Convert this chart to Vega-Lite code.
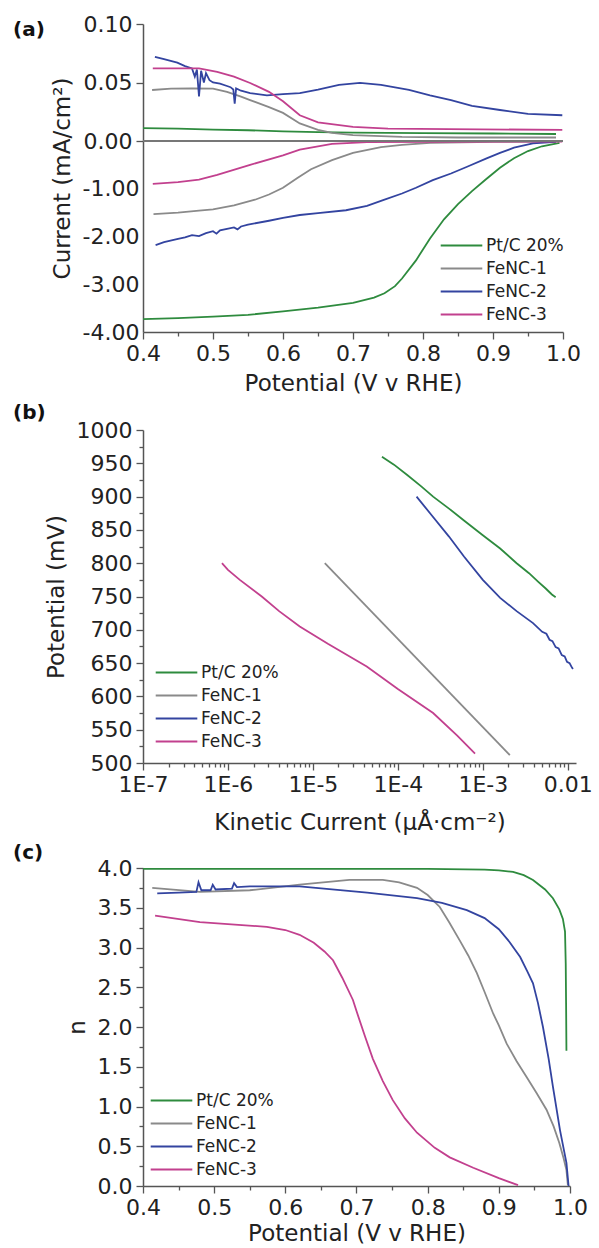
{
  "$schema": "https://vega.github.io/schema/vega-lite/v6.json",
  "padding": {"left": 13, "top": 13, "right": 0, "bottom": 0},
  "background": "white",
  "config": {
    "font": "DejaVu Sans",
    "view": {"stroke": null},
    "axis": {"labelFontSize": 22, "titleFontSize": 23, "titleFontWeight": "normal", "labelColor": "#222", "titleColor": "#222", "domainColor": "#555", "tickColor": "#555", "domainWidth": 1.5, "tickWidth": 1.3, "grid": false, "labelFlush": false, "labelOverlap": false, "labelPadding": 4, "titlePadding": 8},
    "legend": {"labelColor": "#222"},
    "title": {"fontSize": 20, "fontWeight": "bold", "color": "#111", "anchor": "start", "frame": "group", "offset": 0, "baseline": "alphabetic"}
  },
  "spacing": 90,
  "bounds": "flush",
  "resolve": {"scale": {"x": "independent", "y": "independent", "color": "independent"}, "legend": {"color": "independent"}, "axis": {"x": "independent", "y": "independent"}},
  "datasets": {
    "rd": [
      {"s": "Pt/C 20%", "part": "ring", "v": 0.40, "i": 0.011},
      {"s": "Pt/C 20%", "part": "ring", "v": 0.45, "i": 0.0105},
      {"s": "Pt/C 20%", "part": "ring", "v": 0.50, "i": 0.0098},
      {"s": "Pt/C 20%", "part": "ring", "v": 0.55, "i": 0.0092},
      {"s": "Pt/C 20%", "part": "ring", "v": 0.60, "i": 0.0082},
      {"s": "Pt/C 20%", "part": "ring", "v": 0.65, "i": 0.0076},
      {"s": "Pt/C 20%", "part": "ring", "v": 0.70, "i": 0.0072},
      {"s": "Pt/C 20%", "part": "ring", "v": 0.80, "i": 0.0068},
      {"s": "Pt/C 20%", "part": "ring", "v": 0.90, "i": 0.0064},
      {"s": "Pt/C 20%", "part": "ring", "v": 0.99, "i": 0.006},
      {"s": "Pt/C 20%", "part": "disk", "v": 0.40, "i": -3.73},
      {"s": "Pt/C 20%", "part": "disk", "v": 0.45, "i": -3.71},
      {"s": "Pt/C 20%", "part": "disk", "v": 0.50, "i": -3.68},
      {"s": "Pt/C 20%", "part": "disk", "v": 0.55, "i": -3.64},
      {"s": "Pt/C 20%", "part": "disk", "v": 0.60, "i": -3.57},
      {"s": "Pt/C 20%", "part": "disk", "v": 0.65, "i": -3.49},
      {"s": "Pt/C 20%", "part": "disk", "v": 0.70, "i": -3.39},
      {"s": "Pt/C 20%", "part": "disk", "v": 0.73, "i": -3.28},
      {"s": "Pt/C 20%", "part": "disk", "v": 0.745, "i": -3.19},
      {"s": "Pt/C 20%", "part": "disk", "v": 0.76, "i": -3.04},
      {"s": "Pt/C 20%", "part": "disk", "v": 0.77, "i": -2.88},
      {"s": "Pt/C 20%", "part": "disk", "v": 0.79, "i": -2.50},
      {"s": "Pt/C 20%", "part": "disk", "v": 0.81, "i": -2.04},
      {"s": "Pt/C 20%", "part": "disk", "v": 0.83, "i": -1.64},
      {"s": "Pt/C 20%", "part": "disk", "v": 0.85, "i": -1.32},
      {"s": "Pt/C 20%", "part": "disk", "v": 0.87, "i": -1.05},
      {"s": "Pt/C 20%", "part": "disk", "v": 0.89, "i": -0.80},
      {"s": "Pt/C 20%", "part": "disk", "v": 0.91, "i": -0.56},
      {"s": "Pt/C 20%", "part": "disk", "v": 0.93, "i": -0.36},
      {"s": "Pt/C 20%", "part": "disk", "v": 0.95, "i": -0.21},
      {"s": "Pt/C 20%", "part": "disk", "v": 0.97, "i": -0.11},
      {"s": "Pt/C 20%", "part": "disk", "v": 0.995, "i": -0.04},
      {"s": "FeNC-1", "part": "ring", "v": 0.413, "i": 0.0436},
      {"s": "FeNC-1", "part": "ring", "v": 0.44, "i": 0.0448},
      {"s": "FeNC-1", "part": "ring", "v": 0.47, "i": 0.045},
      {"s": "FeNC-1", "part": "ring", "v": 0.50, "i": 0.0448},
      {"s": "FeNC-1", "part": "ring", "v": 0.52, "i": 0.042},
      {"s": "FeNC-1", "part": "ring", "v": 0.54, "i": 0.038},
      {"s": "FeNC-1", "part": "ring", "v": 0.553, "i": 0.035},
      {"s": "FeNC-1", "part": "ring", "v": 0.58, "i": 0.029},
      {"s": "FeNC-1", "part": "ring", "v": 0.60, "i": 0.024},
      {"s": "FeNC-1", "part": "ring", "v": 0.624, "i": 0.015},
      {"s": "FeNC-1", "part": "ring", "v": 0.65, "i": 0.0095},
      {"s": "FeNC-1", "part": "ring", "v": 0.67, "i": 0.007},
      {"s": "FeNC-1", "part": "ring", "v": 0.70, "i": 0.005},
      {"s": "FeNC-1", "part": "ring", "v": 0.77, "i": 0.0035},
      {"s": "FeNC-1", "part": "ring", "v": 0.85, "i": 0.003},
      {"s": "FeNC-1", "part": "ring", "v": 0.99, "i": 0.003},
      {"s": "FeNC-1", "part": "disk", "v": 0.415, "i": -1.53},
      {"s": "FeNC-1", "part": "disk", "v": 0.45, "i": -1.50},
      {"s": "FeNC-1", "part": "disk", "v": 0.48, "i": -1.46},
      {"s": "FeNC-1", "part": "disk", "v": 0.50, "i": -1.43},
      {"s": "FeNC-1", "part": "disk", "v": 0.53, "i": -1.35},
      {"s": "FeNC-1", "part": "disk", "v": 0.56, "i": -1.23},
      {"s": "FeNC-1", "part": "disk", "v": 0.58, "i": -1.12},
      {"s": "FeNC-1", "part": "disk", "v": 0.60, "i": -0.98},
      {"s": "FeNC-1", "part": "disk", "v": 0.62, "i": -0.78},
      {"s": "FeNC-1", "part": "disk", "v": 0.64, "i": -0.59},
      {"s": "FeNC-1", "part": "disk", "v": 0.67, "i": -0.40},
      {"s": "FeNC-1", "part": "disk", "v": 0.70, "i": -0.25},
      {"s": "FeNC-1", "part": "disk", "v": 0.74, "i": -0.13},
      {"s": "FeNC-1", "part": "disk", "v": 0.77, "i": -0.08},
      {"s": "FeNC-1", "part": "disk", "v": 0.81, "i": -0.04},
      {"s": "FeNC-1", "part": "disk", "v": 0.90, "i": -0.02},
      {"s": "FeNC-1", "part": "disk", "v": 0.99, "i": -0.01},
      {"s": "FeNC-2", "part": "ring", "v": 0.417, "i": 0.072},
      {"s": "FeNC-2", "part": "ring", "v": 0.43, "i": 0.070},
      {"s": "FeNC-2", "part": "ring", "v": 0.449, "i": 0.067},
      {"s": "FeNC-2", "part": "ring", "v": 0.46, "i": 0.064},
      {"s": "FeNC-2", "part": "ring", "v": 0.47, "i": 0.062},
      {"s": "FeNC-2", "part": "ring", "v": 0.474, "i": 0.055},
      {"s": "FeNC-2", "part": "ring", "v": 0.477, "i": 0.061},
      {"s": "FeNC-2", "part": "ring", "v": 0.480, "i": 0.038},
      {"s": "FeNC-2", "part": "ring", "v": 0.483, "i": 0.060},
      {"s": "FeNC-2", "part": "ring", "v": 0.487, "i": 0.050},
      {"s": "FeNC-2", "part": "ring", "v": 0.490, "i": 0.058},
      {"s": "FeNC-2", "part": "ring", "v": 0.495, "i": 0.052},
      {"s": "FeNC-2", "part": "ring", "v": 0.50, "i": 0.050},
      {"s": "FeNC-2", "part": "ring", "v": 0.51, "i": 0.049},
      {"s": "FeNC-2", "part": "ring", "v": 0.52, "i": 0.047},
      {"s": "FeNC-2", "part": "ring", "v": 0.525, "i": 0.046},
      {"s": "FeNC-2", "part": "ring", "v": 0.529, "i": 0.044},
      {"s": "FeNC-2", "part": "ring", "v": 0.531, "i": 0.032},
      {"s": "FeNC-2", "part": "ring", "v": 0.533, "i": 0.045},
      {"s": "FeNC-2", "part": "ring", "v": 0.54, "i": 0.043},
      {"s": "FeNC-2", "part": "ring", "v": 0.553, "i": 0.041},
      {"s": "FeNC-2", "part": "ring", "v": 0.577, "i": 0.039},
      {"s": "FeNC-2", "part": "ring", "v": 0.60, "i": 0.040},
      {"s": "FeNC-2", "part": "ring", "v": 0.624, "i": 0.041},
      {"s": "FeNC-2", "part": "ring", "v": 0.65, "i": 0.044},
      {"s": "FeNC-2", "part": "ring", "v": 0.68, "i": 0.048},
      {"s": "FeNC-2", "part": "ring", "v": 0.71, "i": 0.0496},
      {"s": "FeNC-2", "part": "ring", "v": 0.74, "i": 0.048},
      {"s": "FeNC-2", "part": "ring", "v": 0.78, "i": 0.0436},
      {"s": "FeNC-2", "part": "ring", "v": 0.81, "i": 0.039},
      {"s": "FeNC-2", "part": "ring", "v": 0.84, "i": 0.035},
      {"s": "FeNC-2", "part": "ring", "v": 0.87, "i": 0.030},
      {"s": "FeNC-2", "part": "ring", "v": 0.91, "i": 0.0265},
      {"s": "FeNC-2", "part": "ring", "v": 0.95, "i": 0.0232},
      {"s": "FeNC-2", "part": "ring", "v": 0.999, "i": 0.022},
      {"s": "FeNC-2", "part": "disk", "v": 0.418, "i": -2.18},
      {"s": "FeNC-2", "part": "disk", "v": 0.43, "i": -2.12},
      {"s": "FeNC-2", "part": "disk", "v": 0.45, "i": -2.05},
      {"s": "FeNC-2", "part": "disk", "v": 0.46, "i": -2.02},
      {"s": "FeNC-2", "part": "disk", "v": 0.47, "i": -1.97},
      {"s": "FeNC-2", "part": "disk", "v": 0.48, "i": -1.99},
      {"s": "FeNC-2", "part": "disk", "v": 0.49, "i": -1.93},
      {"s": "FeNC-2", "part": "disk", "v": 0.50, "i": -1.89},
      {"s": "FeNC-2", "part": "disk", "v": 0.505, "i": -1.94},
      {"s": "FeNC-2", "part": "disk", "v": 0.51, "i": -1.87},
      {"s": "FeNC-2", "part": "disk", "v": 0.52, "i": -1.84},
      {"s": "FeNC-2", "part": "disk", "v": 0.53, "i": -1.81},
      {"s": "FeNC-2", "part": "disk", "v": 0.535, "i": -1.85},
      {"s": "FeNC-2", "part": "disk", "v": 0.54, "i": -1.79},
      {"s": "FeNC-2", "part": "disk", "v": 0.55, "i": -1.75},
      {"s": "FeNC-2", "part": "disk", "v": 0.58, "i": -1.67},
      {"s": "FeNC-2", "part": "disk", "v": 0.60, "i": -1.61},
      {"s": "FeNC-2", "part": "disk", "v": 0.624, "i": -1.55},
      {"s": "FeNC-2", "part": "disk", "v": 0.65, "i": -1.51},
      {"s": "FeNC-2", "part": "disk", "v": 0.69, "i": -1.45},
      {"s": "FeNC-2", "part": "disk", "v": 0.72, "i": -1.36},
      {"s": "FeNC-2", "part": "disk", "v": 0.743, "i": -1.24},
      {"s": "FeNC-2", "part": "disk", "v": 0.77, "i": -1.10},
      {"s": "FeNC-2", "part": "disk", "v": 0.79, "i": -0.98},
      {"s": "FeNC-2", "part": "disk", "v": 0.814, "i": -0.82},
      {"s": "FeNC-2", "part": "disk", "v": 0.84, "i": -0.68},
      {"s": "FeNC-2", "part": "disk", "v": 0.863, "i": -0.54},
      {"s": "FeNC-2", "part": "disk", "v": 0.89, "i": -0.37},
      {"s": "FeNC-2", "part": "disk", "v": 0.91, "i": -0.25},
      {"s": "FeNC-2", "part": "disk", "v": 0.93, "i": -0.14},
      {"s": "FeNC-2", "part": "disk", "v": 0.957, "i": -0.05},
      {"s": "FeNC-2", "part": "disk", "v": 0.99, "i": -0.02},
      {"s": "FeNC-3", "part": "ring", "v": 0.414, "i": 0.062},
      {"s": "FeNC-3", "part": "ring", "v": 0.48, "i": 0.062},
      {"s": "FeNC-3", "part": "ring", "v": 0.506, "i": 0.059},
      {"s": "FeNC-3", "part": "ring", "v": 0.53, "i": 0.055},
      {"s": "FeNC-3", "part": "ring", "v": 0.553, "i": 0.0496},
      {"s": "FeNC-3", "part": "ring", "v": 0.58, "i": 0.042},
      {"s": "FeNC-3", "part": "ring", "v": 0.60, "i": 0.034},
      {"s": "FeNC-3", "part": "ring", "v": 0.624, "i": 0.022},
      {"s": "FeNC-3", "part": "ring", "v": 0.65, "i": 0.016},
      {"s": "FeNC-3", "part": "ring", "v": 0.70, "i": 0.012},
      {"s": "FeNC-3", "part": "ring", "v": 0.75, "i": 0.0105},
      {"s": "FeNC-3", "part": "ring", "v": 0.999, "i": 0.0095},
      {"s": "FeNC-3", "part": "disk", "v": 0.414, "i": -0.90},
      {"s": "FeNC-3", "part": "disk", "v": 0.45, "i": -0.86},
      {"s": "FeNC-3", "part": "disk", "v": 0.48, "i": -0.81},
      {"s": "FeNC-3", "part": "disk", "v": 0.506, "i": -0.71},
      {"s": "FeNC-3", "part": "disk", "v": 0.553, "i": -0.50},
      {"s": "FeNC-3", "part": "disk", "v": 0.60, "i": -0.30},
      {"s": "FeNC-3", "part": "disk", "v": 0.624, "i": -0.18},
      {"s": "FeNC-3", "part": "disk", "v": 0.67, "i": -0.06},
      {"s": "FeNC-3", "part": "disk", "v": 0.72, "i": -0.025},
      {"s": "FeNC-3", "part": "disk", "v": 0.999, "i": -0.01}
    ],
    "tf": [
      {"s": "Pt/C 20%", "k": 6.5e-5, "p": 960},
      {"s": "Pt/C 20%", "k": 9e-5, "p": 948},
      {"s": "Pt/C 20%", "k": 1.3e-4, "p": 932},
      {"s": "Pt/C 20%", "k": 1.9e-4, "p": 915},
      {"s": "Pt/C 20%", "k": 2.6e-4, "p": 900},
      {"s": "Pt/C 20%", "k": 4e-4, "p": 882},
      {"s": "Pt/C 20%", "k": 6e-4, "p": 864},
      {"s": "Pt/C 20%", "k": 1.0e-3, "p": 842},
      {"s": "Pt/C 20%", "k": 1.6e-3, "p": 822},
      {"s": "Pt/C 20%", "k": 2.5e-3, "p": 800},
      {"s": "Pt/C 20%", "k": 3.5e-3, "p": 785},
      {"s": "Pt/C 20%", "k": 4.5e-3, "p": 772},
      {"s": "Pt/C 20%", "k": 5.5e-3, "p": 762},
      {"s": "Pt/C 20%", "k": 6.5e-3, "p": 753},
      {"s": "Pt/C 20%", "k": 7.2e-3, "p": 749},
      {"s": "FeNC-1", "k": 1.38e-5, "p": 800},
      {"s": "FeNC-1", "k": 2.08e-3, "p": 512},
      {"s": "FeNC-2", "k": 1.66e-4, "p": 900},
      {"s": "FeNC-2", "k": 2.5e-4, "p": 872},
      {"s": "FeNC-2", "k": 4e-4, "p": 840},
      {"s": "FeNC-2", "k": 6e-4, "p": 810},
      {"s": "FeNC-2", "k": 1.0e-3, "p": 775},
      {"s": "FeNC-2", "k": 1.6e-3, "p": 748},
      {"s": "FeNC-2", "k": 2.5e-3, "p": 728},
      {"s": "FeNC-2", "k": 3.9e-3, "p": 710},
      {"s": "FeNC-2", "k": 5.0e-3, "p": 697},
      {"s": "FeNC-2", "k": 5.6e-3, "p": 694},
      {"s": "FeNC-2", "k": 6.1e-3, "p": 685},
      {"s": "FeNC-2", "k": 6.6e-3, "p": 683},
      {"s": "FeNC-2", "k": 7.2e-3, "p": 674},
      {"s": "FeNC-2", "k": 7.8e-3, "p": 672},
      {"s": "FeNC-2", "k": 8.5e-3, "p": 662},
      {"s": "FeNC-2", "k": 9.2e-3, "p": 660},
      {"s": "FeNC-2", "k": 9.8e-3, "p": 652},
      {"s": "FeNC-2", "k": 1.05e-2, "p": 650},
      {"s": "FeNC-2", "k": 1.1e-2, "p": 645},
      {"s": "FeNC-2", "k": 1.15e-2, "p": 641},
      {"s": "FeNC-3", "k": 8.5e-7, "p": 800},
      {"s": "FeNC-3", "k": 1.0e-6, "p": 790},
      {"s": "FeNC-3", "k": 1.38e-6, "p": 775},
      {"s": "FeNC-3", "k": 2.5e-6, "p": 750},
      {"s": "FeNC-3", "k": 4e-6, "p": 728},
      {"s": "FeNC-3", "k": 7e-6, "p": 705},
      {"s": "FeNC-3", "k": 1.5e-5, "p": 679},
      {"s": "FeNC-3", "k": 4.3e-5, "p": 645},
      {"s": "FeNC-3", "k": 1e-4, "p": 611},
      {"s": "FeNC-3", "k": 2.6e-4, "p": 575},
      {"s": "FeNC-3", "k": 5e-4, "p": 541},
      {"s": "FeNC-3", "k": 8.1e-4, "p": 514}
    ],
    "nv": [
      {"s": "Pt/C 20%", "v": 0.40, "n": 3.99},
      {"s": "Pt/C 20%", "v": 0.60, "n": 3.99},
      {"s": "Pt/C 20%", "v": 0.80, "n": 3.99},
      {"s": "Pt/C 20%", "v": 0.88, "n": 3.98},
      {"s": "Pt/C 20%", "v": 0.90, "n": 3.97},
      {"s": "Pt/C 20%", "v": 0.92, "n": 3.95},
      {"s": "Pt/C 20%", "v": 0.935, "n": 3.91},
      {"s": "Pt/C 20%", "v": 0.948, "n": 3.85},
      {"s": "Pt/C 20%", "v": 0.965, "n": 3.73},
      {"s": "Pt/C 20%", "v": 0.976, "n": 3.62},
      {"s": "Pt/C 20%", "v": 0.985, "n": 3.48},
      {"s": "Pt/C 20%", "v": 0.99, "n": 3.36},
      {"s": "Pt/C 20%", "v": 0.993, "n": 3.2},
      {"s": "Pt/C 20%", "v": 0.994, "n": 2.8},
      {"s": "Pt/C 20%", "v": 0.9945, "n": 2.3},
      {"s": "Pt/C 20%", "v": 0.995, "n": 1.7},
      {"s": "FeNC-1", "v": 0.413, "n": 3.75},
      {"s": "FeNC-1", "v": 0.48, "n": 3.70},
      {"s": "FeNC-1", "v": 0.55, "n": 3.72},
      {"s": "FeNC-1", "v": 0.62, "n": 3.79},
      {"s": "FeNC-1", "v": 0.69, "n": 3.85},
      {"s": "FeNC-1", "v": 0.737, "n": 3.85},
      {"s": "FeNC-1", "v": 0.76, "n": 3.82},
      {"s": "FeNC-1", "v": 0.785, "n": 3.75},
      {"s": "FeNC-1", "v": 0.80, "n": 3.66},
      {"s": "FeNC-1", "v": 0.817, "n": 3.51},
      {"s": "FeNC-1", "v": 0.83, "n": 3.32},
      {"s": "FeNC-1", "v": 0.845, "n": 3.09},
      {"s": "FeNC-1", "v": 0.857, "n": 2.90},
      {"s": "FeNC-1", "v": 0.869, "n": 2.68},
      {"s": "FeNC-1", "v": 0.88, "n": 2.44},
      {"s": "FeNC-1", "v": 0.892, "n": 2.17},
      {"s": "FeNC-1", "v": 0.90, "n": 2.02},
      {"s": "FeNC-1", "v": 0.911, "n": 1.79},
      {"s": "FeNC-1", "v": 0.925, "n": 1.57},
      {"s": "FeNC-1", "v": 0.939, "n": 1.37},
      {"s": "FeNC-1", "v": 0.953, "n": 1.17},
      {"s": "FeNC-1", "v": 0.967, "n": 0.96},
      {"s": "FeNC-1", "v": 0.977, "n": 0.75},
      {"s": "FeNC-1", "v": 0.985, "n": 0.54},
      {"s": "FeNC-1", "v": 0.991, "n": 0.35},
      {"s": "FeNC-1", "v": 0.995, "n": 0.2},
      {"s": "FeNC-1", "v": 0.997, "n": 0.01},
      {"s": "FeNC-2", "v": 0.42, "n": 3.68},
      {"s": "FeNC-2", "v": 0.45, "n": 3.69},
      {"s": "FeNC-2", "v": 0.475, "n": 3.70},
      {"s": "FeNC-2", "v": 0.478, "n": 3.82},
      {"s": "FeNC-2", "v": 0.482, "n": 3.72},
      {"s": "FeNC-2", "v": 0.495, "n": 3.72},
      {"s": "FeNC-2", "v": 0.498, "n": 3.79},
      {"s": "FeNC-2", "v": 0.502, "n": 3.73},
      {"s": "FeNC-2", "v": 0.525, "n": 3.74},
      {"s": "FeNC-2", "v": 0.528, "n": 3.81},
      {"s": "FeNC-2", "v": 0.532, "n": 3.76},
      {"s": "FeNC-2", "v": 0.55, "n": 3.77},
      {"s": "FeNC-2", "v": 0.62, "n": 3.77},
      {"s": "FeNC-2", "v": 0.715, "n": 3.69},
      {"s": "FeNC-2", "v": 0.785, "n": 3.62},
      {"s": "FeNC-2", "v": 0.82, "n": 3.56},
      {"s": "FeNC-2", "v": 0.855, "n": 3.47},
      {"s": "FeNC-2", "v": 0.88, "n": 3.37},
      {"s": "FeNC-2", "v": 0.90, "n": 3.23},
      {"s": "FeNC-2", "v": 0.915, "n": 3.07},
      {"s": "FeNC-2", "v": 0.93, "n": 2.88},
      {"s": "FeNC-2", "v": 0.94, "n": 2.70},
      {"s": "FeNC-2", "v": 0.948, "n": 2.55},
      {"s": "FeNC-2", "v": 0.955, "n": 2.30},
      {"s": "FeNC-2", "v": 0.962, "n": 2.0},
      {"s": "FeNC-2", "v": 0.97, "n": 1.6},
      {"s": "FeNC-2", "v": 0.976, "n": 1.25},
      {"s": "FeNC-2", "v": 0.986, "n": 0.70},
      {"s": "FeNC-2", "v": 0.995, "n": 0.29},
      {"s": "FeNC-2", "v": 0.998, "n": 0.0},
      {"s": "FeNC-3", "v": 0.417, "n": 3.40},
      {"s": "FeNC-3", "v": 0.48, "n": 3.32},
      {"s": "FeNC-3", "v": 0.574, "n": 3.26},
      {"s": "FeNC-3", "v": 0.60, "n": 3.22},
      {"s": "FeNC-3", "v": 0.62, "n": 3.16},
      {"s": "FeNC-3", "v": 0.64, "n": 3.06},
      {"s": "FeNC-3", "v": 0.655, "n": 2.95},
      {"s": "FeNC-3", "v": 0.667, "n": 2.84},
      {"s": "FeNC-3", "v": 0.68, "n": 2.62},
      {"s": "FeNC-3", "v": 0.695, "n": 2.34},
      {"s": "FeNC-3", "v": 0.70, "n": 2.20},
      {"s": "FeNC-3", "v": 0.712, "n": 1.88},
      {"s": "FeNC-3", "v": 0.723, "n": 1.60},
      {"s": "FeNC-3", "v": 0.737, "n": 1.32},
      {"s": "FeNC-3", "v": 0.751, "n": 1.08},
      {"s": "FeNC-3", "v": 0.768, "n": 0.85},
      {"s": "FeNC-3", "v": 0.785, "n": 0.67},
      {"s": "FeNC-3", "v": 0.81, "n": 0.48},
      {"s": "FeNC-3", "v": 0.831, "n": 0.36},
      {"s": "FeNC-3", "v": 0.864, "n": 0.23},
      {"s": "FeNC-3", "v": 0.90, "n": 0.10},
      {"s": "FeNC-3", "v": 0.927, "n": 0.01}
    ]
  },
  "vconcat": [
    {
      "width": 420,
      "height": 308,
      "title": {"text": "(a)", "dx": -130, "dy": 31},
      "data": {"name": "rd"},
      "layer": [
        {
          "mark": {"type": "line", "strokeWidth": 1.8},
          "encoding": {
            "x": {"field": "v", "type": "quantitative", "scale": {"domain": [0.4, 1.0], "nice": false, "zero": false},
              "axis": {"title": "Potential (V v RHE)", "values": [0.4, 0.45, 0.5, 0.55, 0.6, 0.65, 0.7, 0.75, 0.8, 0.85, 0.9, 0.95, 1.0],
                "labelExpr": "abs(datum.value*10 - round(datum.value*10)) > 0.01 ? '' : format(datum.value, '.1f')",
                "tickSize": {"condition": {"test": "abs(datum.value*10 - round(datum.value*10)) > 0.01", "value": 4}, "value": 7}}},
            "y": {"field": "i", "type": "quantitative", "scale": {"domain": [-4, 0, 0.1], "range": [308, 117, 0], "nice": false, "zero": false},
              "axis": {"title": "Current (mA/cm²)", "values": [-4, -3.5, -3, -2.5, -2, -1.5, -1, -0.5, 0, 0.025, 0.05, 0.075, 0.1],
                "labelExpr": "(datum.value < 0 ? abs(datum.value - round(datum.value)) > 0.01 : abs(datum.value*20 - round(datum.value*20)) > 0.01) ? '' : replace(format(datum.value, '.2f'), '−', '-')",
                "tickSize": {"condition": {"test": "datum.value < 0 ? abs(datum.value - round(datum.value)) > 0.01 : abs(datum.value*20 - round(datum.value*20)) > 0.01", "value": 4}, "value": 7}}},
            "color": {"field": "s", "type": "nominal",
              "scale": {"domain": ["Pt/C 20%", "FeNC-1", "FeNC-2", "FeNC-3"], "range": ["#2e8b3e", "#8a8a8a", "#3344a0", "#c2408e"]},
              "legend": {"orient": "none", "legendX": 309, "legendY": 212, "title": null, "symbolType": "M-2.6,0H2.6", "symbolSize": 256, "symbolStrokeWidth": 2.2, "labelFontSize": 17, "labelOffset": 15, "rowPadding": 5, "padding": 0}},
            "detail": {"field": "part"}
          }
        },
        {
          "mark": {"type": "rule", "color": "#777", "strokeWidth": 1.3},
          "encoding": {"y": {"datum": 0, "type": "quantitative"}}
        }
      ]
    },
    {
      "width": 433,
      "height": 341,
      "title": {"text": "(b)", "dx": -130, "dy": 8},
      "data": {"name": "tf"},
      "mark": {"type": "line", "strokeWidth": 1.8},
      "encoding": {
        "x": {"field": "k", "type": "quantitative", "scale": {"type": "log", "domain": [1e-7, 0.0125], "nice": false},
          "axis": {"title": "Kinetic Current (μÅ·cm⁻²)", "titlePadding": 16,
            "values": [1e-7, 2e-7, 3e-7, 4e-7, 5e-7, 6e-7, 7e-7, 8e-7, 9e-7, 1e-6, 2e-6, 3e-6, 4e-6, 5e-6, 6e-6, 7e-6, 8e-6, 9e-6, 1e-5, 2e-5, 3e-5, 4e-5, 5e-5, 6e-5, 7e-5, 8e-5, 9e-5, 1e-4, 2e-4, 3e-4, 4e-4, 5e-4, 6e-4, 7e-4, 8e-4, 9e-4, 1e-3, 2e-3, 3e-3, 4e-3, 5e-3, 6e-3, 7e-3, 8e-3, 9e-3, 1e-2],
            "labelExpr": "abs(log(datum.value)/LN10 - round(log(datum.value)/LN10)) > 0.01 ? '' : (datum.value > 0.005 ? '0.01' : '1E' + round(log(datum.value)/LN10))",
            "tickSize": {"condition": {"test": "abs(log(datum.value)/LN10 - round(log(datum.value)/LN10)) > 0.01", "value": 4}, "value": 7}}},
        "y": {"field": "p", "type": "quantitative", "scale": {"domain": [500, 1000], "range": [341, 8], "nice": false, "zero": false},
          "axis": {"title": "Potential (mV)", "values": [500, 525, 550, 575, 600, 625, 650, 675, 700, 725, 750, 775, 800, 825, 850, 875, 900, 925, 950, 975, 1000],
            "labelExpr": "datum.value % 50 != 0 ? '' : format(datum.value, 'd')",
            "tickSize": {"condition": {"test": "datum.value % 50 != 0", "value": 4}, "value": 7}}},
        "color": {"field": "s", "type": "nominal",
          "scale": {"domain": ["Pt/C 20%", "FeNC-1", "FeNC-2", "FeNC-3"], "range": ["#2e8b3e", "#8a8a8a", "#3344a0", "#c2408e"]},
          "legend": {"orient": "none", "legendX": 24, "legendY": 241, "title": null, "symbolType": "M-2.6,0H2.6", "symbolSize": 256, "symbolStrokeWidth": 2.2, "labelFontSize": 17, "labelOffset": 15, "rowPadding": 5, "padding": 0}}
      }
    },
    {
      "width": 427,
      "height": 333,
      "title": {"text": "(c)", "dx": -130, "dy": 14},
      "data": {"name": "nv"},
      "mark": {"type": "line", "strokeWidth": 1.8},
      "encoding": {
        "x": {"field": "v", "type": "quantitative", "scale": {"domain": [0.4, 1.0], "nice": false, "zero": false},
          "axis": {"title": "Potential (V v RHE)", "titlePadding": 4, "values": [0.4, 0.45, 0.5, 0.55, 0.6, 0.65, 0.7, 0.75, 0.8, 0.85, 0.9, 0.95, 1.0],
            "labelExpr": "abs(datum.value*10 - round(datum.value*10)) > 0.01 ? '' : format(datum.value, '.1f')",
            "tickSize": {"condition": {"test": "abs(datum.value*10 - round(datum.value*10)) > 0.01", "value": 4}, "value": 7}}},
        "y": {"field": "n", "type": "quantitative", "scale": {"domain": [0, 4], "range": [333, 15], "nice": false, "zero": false},
          "axis": {"title": "n", "values": [0, 0.25, 0.5, 0.75, 1, 1.25, 1.5, 1.75, 2, 2.25, 2.5, 2.75, 3, 3.25, 3.5, 3.75, 4],
            "labelExpr": "abs(datum.value*2 - round(datum.value*2)) > 0.01 ? '' : format(datum.value, '.1f')",
            "tickSize": {"condition": {"test": "abs(datum.value*2 - round(datum.value*2)) > 0.01", "value": 4}, "value": 7}}},
        "color": {"field": "s", "type": "nominal",
          "scale": {"domain": ["Pt/C 20%", "FeNC-1", "FeNC-2", "FeNC-3"], "range": ["#2e8b3e", "#8a8a8a", "#3344a0", "#c2408e"]},
          "legend": {"orient": "none", "legendX": 19, "legendY": 238, "title": null, "symbolType": "M-2.6,0H2.6", "symbolSize": 256, "symbolStrokeWidth": 2.2, "labelFontSize": 17, "labelOffset": 15, "rowPadding": 5, "padding": 0}}
      }
    }
  ]
}
